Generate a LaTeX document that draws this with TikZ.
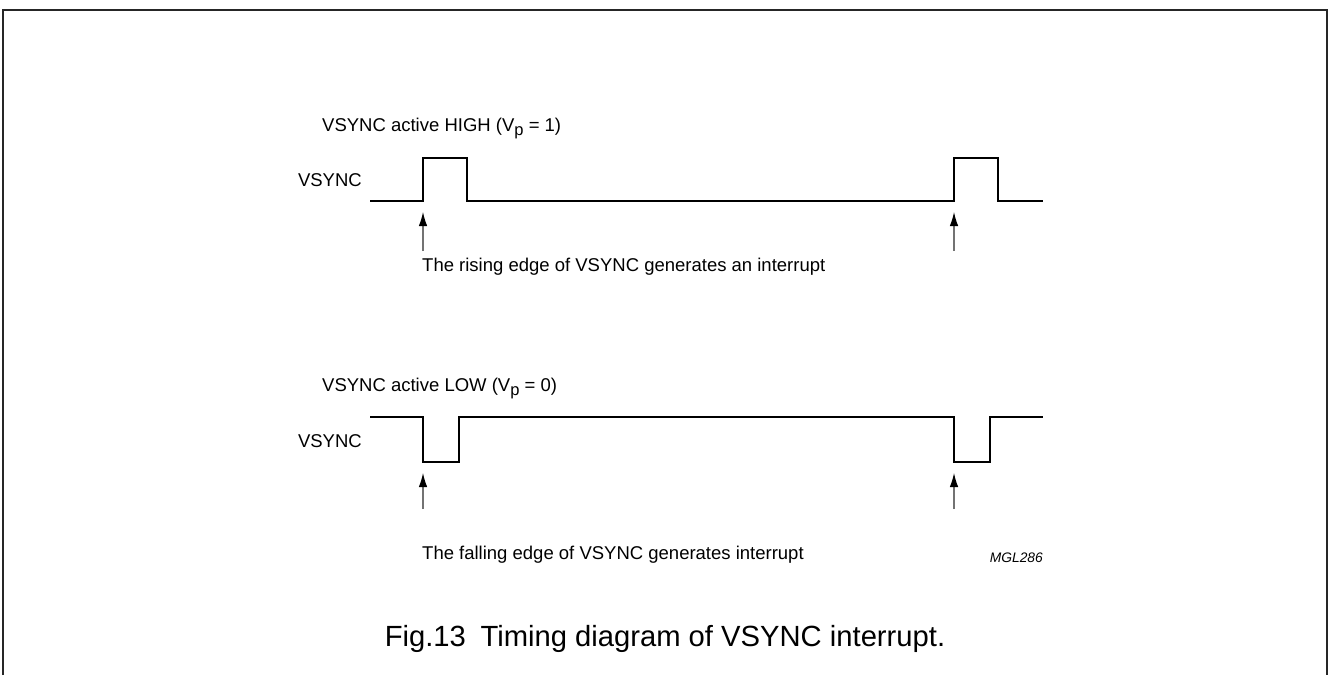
\documentclass[tikz,border=0pt]{standalone}
\usepackage{fontspec}
\setmainfont{Liberation Sans}
\usetikzlibrary{arrows.meta,positioning}

\newcommand{\vsub}{V\raisebox{-0.45ex}{\fontsize{16.5}{16.5}\selectfont p}}

\begin{document}
\begin{tikzpicture}[x=1pt, y=-1pt,
    wave/.style={line width=2.8pt, line join=miter},
    trig/.style={draw=black!55, line width=1.1pt, -{Latex[length=14pt,width=8.5pt,color=black]}},
    lbl/.style={font=\fontsize{18.5}{22}\selectfont, inner sep=0pt}]
    \useasboundingbox (0,0) rectangle (1329,675);

    % Frame (open at the bottom)
    \draw[line width=1.8pt, black!85] (3,675) -- (3,10) -- (1327,10) -- (1327,675);

    % Active HIGH waveform
    \node[lbl, anchor=base west] (titleH) at (322,131) {VSYNC active HIGH (\vsub{} = 1)};
    \node[lbl, anchor=base east] (sigH) at (362,186) {VSYNC};
    \coordinate (riseA) at (423,201);
    \coordinate (riseB) at (954,201);
    \draw[wave] (370,201) -- (riseA) -- (423,158) -- (467,158) -- (467,201)
        -- (riseB) -- (954,158) -- (998,158) -- (998,201) -- (1043,201);

    % Interrupt markers
    \coordinate (tailA) at (423,251);
    \coordinate (tailB) at (954,251);
    \draw[trig] (tailA) -- ([yshift=-11pt]riseA);
    \draw[trig] (tailB) -- ([yshift=-11pt]riseB);
    \node[lbl, anchor=base west] (noteH) at (422,271) {The rising edge of VSYNC generates an interrupt};

    % Active LOW waveform
    \node[lbl, anchor=base west] (titleL) at (322,391) {VSYNC active LOW (\vsub{} = 0)};
    \node[lbl, anchor=base east] (sigL) at (362,447) {VSYNC};
    \coordinate (fallA) at (423,462);
    \coordinate (fallB) at (954,462);
    \draw[wave] (370,417) -- (423,417) -- (fallA) -- (459,462) -- (459,417)
        -- (954,417) -- (fallB) -- (990,462) -- (990,417) -- (1043,417);

    \coordinate (tailC) at (423,509);
    \coordinate (tailD) at (954,509);
    \draw[trig] (tailC) -- ([yshift=-11pt]fallA);
    \draw[trig] (tailD) -- ([yshift=-11pt]fallB);
    \node[lbl, anchor=base west] (noteL) at (422,559) {The falling edge of VSYNC generates interrupt};
    \node[inner sep=0pt, anchor=base east, font=\fontsize{13.8}{16}\selectfont\itshape] (code) at (1043,562) {MGL286};

    % Caption
    \node[inner sep=0pt, anchor=base, font=\fontsize{29.2}{33}\selectfont] (caption) at (665,646) {Fig.13\hspace{0.5em}Timing diagram of VSYNC interrupt.};
\end{tikzpicture}
\end{document}
